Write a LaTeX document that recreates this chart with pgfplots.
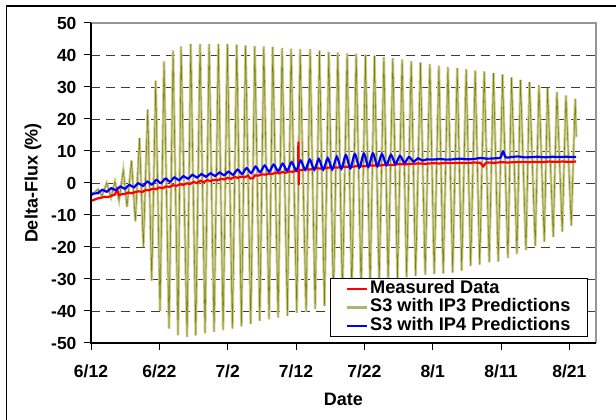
\documentclass[border=0pt]{standalone}
\usepackage{fontspec}
\setmainfont{Liberation Sans}
\usepackage{pgfplots}
\usepackage{pgfplotstable}
\pgfplotsset{compat=1.18}
\definecolor{olivelight}{RGB}{204,204,150}
\definecolor{olivedark}{RGB}{128,128,0}
\definecolor{bordergray}{RGB}{150,150,150}
\definecolor{gridgray}{RGB}{60,60,60}
\definecolor{measred}{RGB}{255,0,0}
\definecolor{ipblue}{RGB}{0,0,255}
\definecolor{legolive}{RGB}{180,180,110}

\pgfplotstableread{
d v
0.29 -3.5
1.02 -2
1.61 -4
2.30 0
2.93 -4.5
3.51 0.5
4.10 -5.5
4.73 4
5.27 -7.5
5.93 7
6.49 -12
7.10 14
7.66 -20
8.30 23
8.89 -30.5
9.47 32
10.10 -40
10.69 38
11.42 -45.5
12.01 41.4
12.74 -47.6
13.18 42.7
14.06 -48.1
14.60 43.5
15.33 -47.6
15.96 43.5
16.69 -47
17.28 43.5
18.01 -46.5
18.64 43.5
19.33 -46
19.96 43.5
20.69 -45.5
21.33 43.2
22.01 -44.8
22.62 43
23.38 -44
23.97 42.8
24.70 -43.1
25.29 42.7
26.06 -42.6
26.60 42.5
27.38 -42.1
27.96 42.2
28.74 -41.5
29.28 42
30.12 -40.6
30.60 41.8
31.48 -40.3
32.06 41.8
32.80 -39.3
33.43 41.4
34.16 -38.5
34.80 41
35.48 -37
36.12 40.8
36.79 -35.5
37.48 40.5
38.17 -34.2
38.80 40.4
39.53 -33.2
40.16 40.1
40.85 -32.3
41.48 39.8
42.17 -31.5
42.86 39.3
43.48 -30.7
44.17 39
44.85 -30
45.53 38.6
46.19 -29.5
46.85 38.1
47.51 -29
48.21 37.7
48.90 -28.7
49.59 37.2
50.22 -28.5
50.91 36.7
51.54 -28.3
52.23 36.3
52.93 -28
53.59 35.9
54.25 -27.4
54.90 35.6
55.56 -26
56.22 35.2
56.88 -25.5
57.54 34.9
58.27 -24.8
58.90 34.3
59.59 -24.6
60.22 33.9
61.01 -23.5
61.54 33
62.33 -22.2
62.85 32.2
63.65 -21
64.17 31.5
65.01 -19.6
65.55 30.6
66.33 -18.3
66.81 29.7
67.64 -16.8
68.18 28.5
68.96 -15.2
69.50 27.4
70.28 -13.3
70.86 26.3
71.01 14.5
}\olivedata

\pgfplotstableread{
d v
0.0 -5.6
0.5 -5.2
1.0 -4.8
1.5 -4.6
2.0 -4.3
2.5 -4.4
3.0 -4.0
3.5 -3.6
3.8 -2.0
4.1 -3.8
4.5 -3.5
5.0 -3.4
5.5 -3.0
6.0 -3.2
6.5 -2.8
7.0 -2.6
7.5 -2.8
8.0 -2.2
8.5 -2.3
9.0 -1.8
9.5 -1.9
10.0 -1.4
10.5 -1.6
11.0 -1.1
11.5 -1.2
12.0 -0.7
12.5 -0.9
13.0 -0.4
13.5 -0.6
14.0 -0.1
14.5 -0.3
15.0 0.3
15.5 0.0
16.0 0.7
16.5 0.2
17.0 0.9
17.5 0.6
18.0 1.0
18.5 0.8
19.0 1.3
19.5 1.1
20.0 1.6
20.5 1.3
21.0 1.9
21.5 1.6
22.0 2.0
22.5 1.8
23.0 2.3
23.3 1.4
23.7 1.5
24.0 2.4
24.5 2.3
25.0 2.7
25.5 2.6
26.0 2.9
26.5 2.8
27.0 3.2
27.5 3.0
28.0 3.4
28.5 3.2
29.0 3.6
29.5 3.5
30.0 3.8
30.3 3.6
30.35 12.9
30.4 -0.6
30.45 4.0
31.0 4.1
31.5 4.3
32.0 4.2
33.0 4.6
34.0 4.5
35.0 4.9
36.0 4.8
37.0 5.1
38.0 5.0
39.0 5.3
40.0 5.2
41.0 5.5
42.0 5.4
43.0 5.7
44.0 5.6
45.0 5.9
46.0 5.8
47.0 6.0
48.0 6.1
49.0 6.0
50.0 6.2
51.0 6.1
52.0 6.3
53.0 6.2
54.0 6.3
55.0 6.2
56.0 6.4
57.0 6.3
57.4 5.2
57.8 6.3
58.0 6.4
59.0 6.3
60.0 6.5
61.0 6.4
62.0 6.5
63.0 6.6
64.0 6.5
65.0 6.6
66.0 6.5
67.0 6.7
68.0 6.6
69.0 6.7
70.0 6.6
71.0 6.7
}\reddata

\pgfplotstableread{
d v
0.00 -4.0
0.33 -3.27
0.99 -3.2
1.65 -2.14
2.31 -2.74
2.97 -1.61
3.63 -2.28
4.29 -1.09
4.95 -1.82
5.61 -0.58
6.27 -1.34
6.93 -0.06
7.59 -0.92
8.25 0.45
8.91 -0.49
9.57 0.95
10.23 -0.03
10.89 1.38
11.55 0.39
12.21 1.76
12.87 0.87
13.53 2.13
14.19 1.34
14.85 2.55
15.51 1.69
16.17 2.81
16.83 1.93
17.49 3.05
18.15 2.17
18.81 3.29
19.47 2.40
20.13 3.55
20.79 2.59
21.45 4.19
22.11 2.83
22.77 4.66
23.43 3.08
24.09 5.10
24.75 3.35
25.41 5.47
26.07 3.54
26.73 5.75
27.39 3.72
28.05 6.02
28.71 3.87
29.37 6.50
30.03 4.00
30.69 6.99
31.35 4.11
32.01 7.28
32.67 4.14
33.33 7.51
33.99 4.18
34.65 7.74
35.31 4.24
35.97 8.19
36.63 4.41
37.29 8.71
37.95 4.59
38.61 9.06
39.27 4.81
39.93 9.19
40.59 5.04
41.25 9.26
41.91 5.31
42.57 9.04
43.23 5.62
43.89 8.82
44.55 5.94
45.21 8.50
45.87 6.27
46.53 8.15
47.19 6.66
47.85 7.73
48.51 7.00
49.17 7.40
50.0 7.3
51.0 7.5
52.0 7.3
53.0 7.4
54.0 7.6
55.0 7.4
56.0 7.5
57.0 7.8
58.0 7.6
59.0 7.7
59.9 7.9
60.3 9.8
60.7 8.0
61.5 8.1
62.5 8.3
63.5 8.0
64.5 8.1
65.5 8.2
66.5 8.0
67.5 8.2
68.5 8.1
69.5 8.2
70.5 8.1
71.0 8.1
}\bluedata

\begin{document}
\begin{tikzpicture}[x=1pt,y=1pt]
\useasboundingbox (0,0) rectangle (616,420);
\fill[white] (0,0) rectangle (616,420);
\draw[black, line width=1.3pt] (6.7,-10) -- (6.7,414) -- (630,414);
\begin{axis}[
  at={(91pt,77pt)}, anchor=south west,
  scale only axis, width=505pt, height=320pt,
  xmin=0, xmax=73.9, ymin=-50, ymax=50,
  clip mode=individual,
  axis line style={draw=none},
  xtick={0,10,...,70},
  xticklabels={6/12,6/22,7/2,7/12,7/22,8/1,8/11,8/21},
  ytick={-50,-40,...,50},
  yticklabels={-50,-40,-30,-20,-10,0,10,20,30,40,50},
  tick align=outside, tick pos=left,
  major tick length=7pt,
  tick style={black, line width=1pt},
  tick label style={font=\fontsize{17.5}{19}\selectfont\bfseries},
  xticklabel style={yshift=-11pt},
  yticklabel style={xshift=-4pt},
  ymajorgrids,
  major grid style={gridgray, dash pattern=on 9pt off 6pt, line width=0.9pt},
  xlabel={Date}, ylabel={Delta-Flux (\%)},
  every axis x label/.style={at={(axis description cs:0.5,-0.176)}, anchor=center,
    font=\fontsize{18}{20}\selectfont\bfseries},
  every axis y label/.style={at={(axis description cs:-0.115,0.5)}, rotate=90, anchor=center,
    font=\fontsize{18}{20}\selectfont\bfseries},
  legend style={at={(0.4733,0.01875)}, anchor=south west, draw=black, line width=0.8pt,
    fill=white, inner xsep=2pt, inner ysep=2pt, row sep=0.8pt,
    font=\fontsize{18.2}{20}\selectfont\bfseries,
    nodes={inner sep=1.5pt, text height=11.5pt, text depth=3pt}},
  legend cell align=left,
  legend image code/.code={\draw[white, line width=0.1pt] (0pt,0pt) -- (15pt,0pt); \draw[#1] (15pt,0pt) -- (35pt,0pt);},
]
\addplot[olivelight, line width=2.6pt, forget plot] table[x=d, y=v] {\olivedata};
\addplot[olivedark, line width=0.55pt, forget plot] table[x=d, y=v] {\olivedata};
\addplot[measred, line width=2.2pt, forget plot] table[x=d, y=v] {\reddata};
\addplot[ipblue, line width=2.2pt, smooth, tension=0.5, forget plot] table[x=d, y=v] {\bluedata};
\addlegendimage{measred, line width=2.3pt}
\addlegendentry{Measured Data}
\addlegendimage{legolive, line width=2.3pt}
\addlegendentry{S3 with IP3 Predictions\hspace*{14pt}}
\addlegendimage{ipblue, line width=2.3pt}
\addlegendentry{S3 with IP4 Predictions\hspace*{14pt}}
\draw[bordergray, line width=1.5pt] (rel axis cs:0,1) -- (rel axis cs:1,1) -- (rel axis cs:1,0);
\draw[black, line width=1.3pt] (rel axis cs:0,1) -- (rel axis cs:0,0) -- (rel axis cs:1,0);
\end{axis}
\end{tikzpicture}
\end{document}
